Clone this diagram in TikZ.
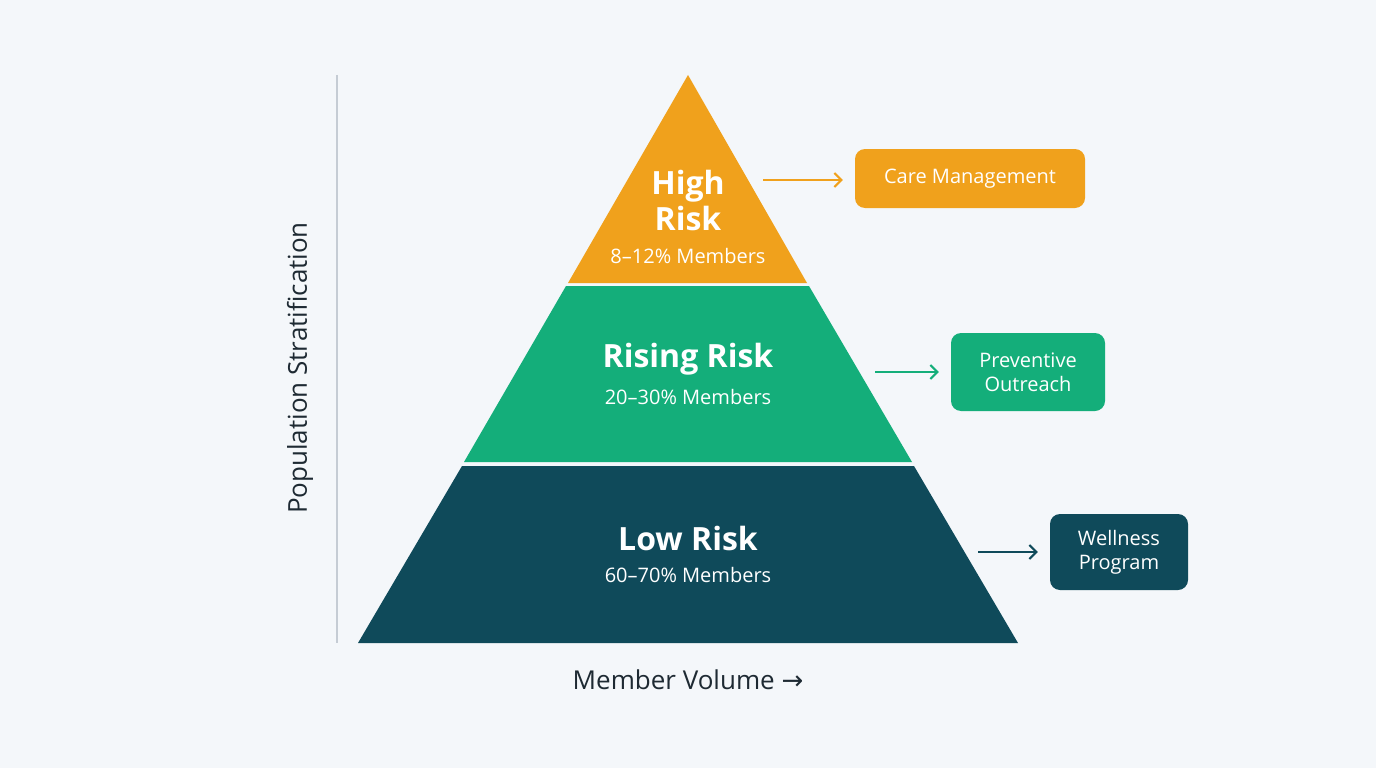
\documentclass[tikz,border=0pt]{standalone}
\usepackage{fontspec}
\setmainfont{Open Sans}
\newfontfamily\arrowfont{DejaVu Sans}
\usetikzlibrary{arrows.meta}
\definecolor{bg}{HTML}{F4F7FA}
\definecolor{cOr}{HTML}{F0A11C}
\definecolor{cGr}{HTML}{14AE7A}
\definecolor{cDk}{HTML}{0F4A5A}
\definecolor{axis}{HTML}{C5CCD4}
\definecolor{txt}{HTML}{1E2A33}
\begin{document}
\begin{tikzpicture}[x=1pt,y=-1pt,
  title/.style={text=white,font=\bfseries\fontsize{32}{36}\selectfont,align=center},
  sub/.style={text=white,font=\fontsize{20}{22}\selectfont},
  box/.style={rounded corners=10pt,text=white,font=\fontsize{20}{24}\selectfont,align=center,inner sep=0pt},
  arr/.style={-{Straight Barb[length=7pt,width=14pt]},line width=2pt}]
\fill[bg] (0,0) rectangle (1376,768);
\useasboundingbox (0,0) rectangle (1376,768);
% axis
\draw[axis,line width=1.5pt] (337,75) -- (337,643);
\node[rotate=90,text=txt,font=\fontsize{26}{28}\selectfont] (ylab) at (300,368) {Population Stratification};
\node[text=txt,font=\fontsize{26}{28}\selectfont] (xlab) at (688,680) {Member Volume {\arrowfont →}};
% pyramid
\fill[cOr] (688,75) -- (807,283) -- (568,283) -- cycle;
\fill[cGr] (566,286) -- (809,286) -- (912,462) -- (464,462) -- cycle;
\fill[cDk] (462,466) -- (914,466) -- (1018,643) -- (358,643) -- cycle;
\node[title] (hr) at (688,200) {High\\Risk};
\node[sub] (hrs) at (688,256) {8–12\% Members};
\node[title] (rr) at (688,359) {Rising Risk};
\node[sub] (rrs) at (688,397) {20–30\% Members};
\node[title] (lr) at (688,538) {Low Risk};
\node[sub] (lrs) at (688,575) {60–70\% Members};
% boxes
\node[box,fill=cOr,minimum width=230pt,minimum height=59pt] (cm) at (970,178.5) {Care Management};
\node[box,fill=cGr,minimum width=154pt,minimum height=78pt] (po) at (1028,372) {Preventive\\Outreach};
\node[box,fill=cDk,minimum width=138pt,minimum height=76pt] (wp) at (1119,552) {Wellness\\Program};
\coordinate (a1) at (763,180);
\coordinate (a2) at (875,372);
\coordinate (a3) at (978,552);
\draw[arr,cOr] (a1) -- ([xshift=-12pt]cm.west|-a1);
\draw[arr,cGr] (a2) -- ([xshift=-12pt]po.west|-a2);
\draw[arr,cDk] (a3) -- ([xshift=-12pt]wp.west|-a3);
\end{tikzpicture}
\end{document}
